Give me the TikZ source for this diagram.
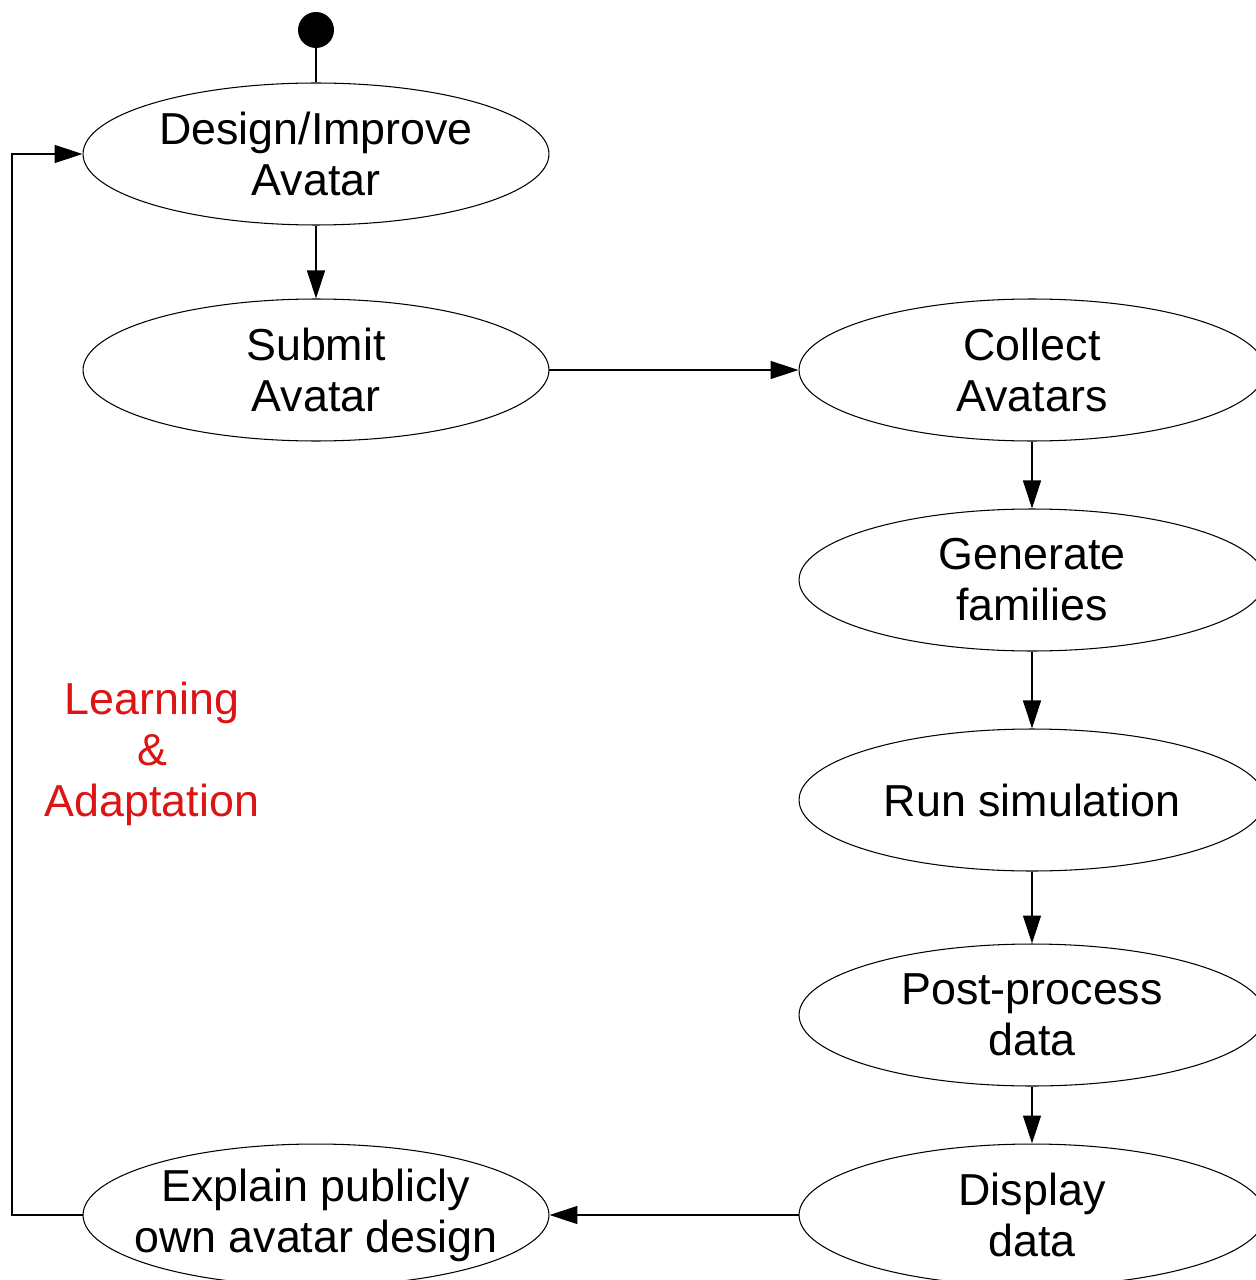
\documentclass[tikz,border=0pt]{standalone}
\usepackage{fontspec}
\setmainfont{Liberation Sans}
\usetikzlibrary{shapes.geometric,arrows.meta}
\definecolor{lred}{RGB}{220,20,20}
\tikzset{
  act/.style={ellipse, draw, line width=0.6pt, minimum width=9.32cm, minimum height=2.84cm,
    inner sep=0pt, align=center, font=\fontsize{25.5}{29}\selectfont},
  acttext/.style={align=center, inner sep=0pt, font=\fontsize{25.5}{29}\selectfont},
  flow/.style={draw, line width=0.8pt, -{Triangle[length=0.56cm,width=0.36cm]}},
  plain/.style={draw, line width=0.8pt},
}
\begin{document}
\begin{tikzpicture}[x=0.02cm,y=-0.02cm]
\path[use as bounding box, clip] (0,0) rectangle (1256,1280);
\fill[white] (0,0) rectangle (1256,1280);
\node[circle, fill=black, minimum size=0.72cm, inner sep=0pt] (start) at (316,30) {};
\node[act] (design) at (316,154) {Design/Improve\\Avatar};
\node[act] (submit) at (316,370) {Submit\\Avatar};
\node[act] (explain) at (316,1215) {};
\node[acttext] (explaintext) at (explain.center) {Explain publicly\\own avatar design};
\node[act] (collect) at (1032,370) {Collect\\Avatars};
\node[act] (generate) at (1032,580) {Generate\\families};
\node[act] (run) at (1032,800) {Run simulation};
\node[act] (post) at (1032,1015) {Post-process\\data};
\node[act] (display) at (1032,1215) {Display\\data};
\node[text=lred, align=center, font=\fontsize{25.5}{29}\selectfont] (learn) at (152,754) {Learning\\\&\\Adaptation};
\coordinate (lb) at (12,1215);
\coordinate (lt) at (12,154);
\path[plain] (start) -- (design.north);
\path[flow] (design.south) -- (submit.north);
\path[flow] (submit.east) -- (collect.west);
\path[flow] (collect.south) -- (generate.north);
\path[flow] (generate.south) -- (run.north);
\path[flow] (run.south) -- (post.north);
\path[flow] (post.south) -- (display.north);
\path[flow] (display.west) -- (explain.east);
\path[flow] (explain.west) -- (lb) -- (lt) -- (design.west);
\end{tikzpicture}
\end{document}
